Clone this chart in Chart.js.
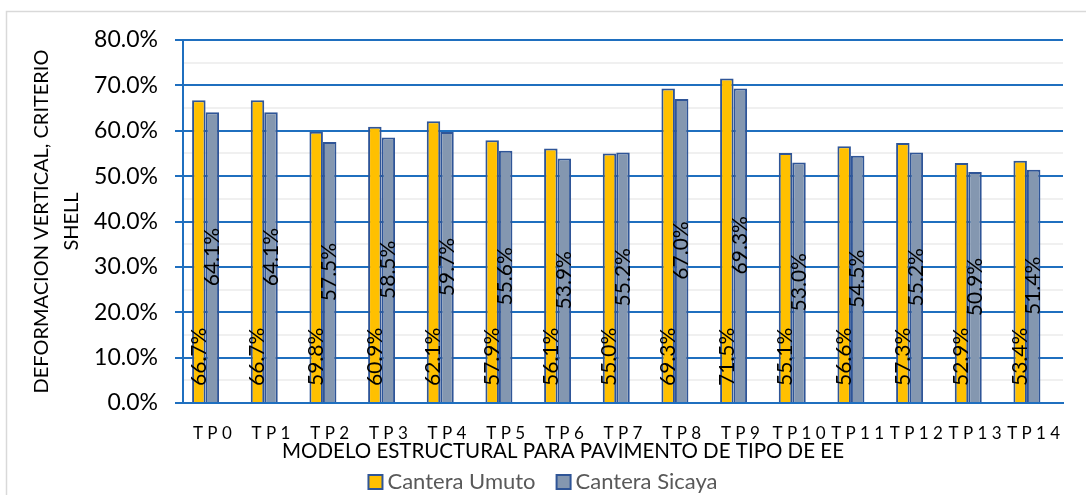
<!DOCTYPE html>
<html>
<head>
<meta charset="utf-8">
<script src="https://cdn.jsdelivr.net/npm/chart.js@4.4.1/dist/chart.umd.min.js"></script>
<style>
  html, body { margin: 0; padding: 0; background: #fff; }
  #wrap { width: 1086px; height: 495px; }
</style>
</head>
<body>
<div id="wrap"><canvas id="myChart" width="1086" height="495"></canvas></div>
<script>
// datos (porcentajes)
const categorias = ['TP0', 'TP1', 'TP2', 'TP3', 'TP4', 'TP5', 'TP6', 'TP7', 'TP8', 'TP9', 'TP10', 'TP11', 'TP12', 'TP13', 'TP14'];
const canteraUmuto = [66.7, 66.7, 59.8, 60.9, 62.1, 57.9, 56.1, 55.0, 69.3, 71.5, 55.1, 56.6, 57.3, 52.9, 53.4];
const canteraSicaya = [64.1, 64.1, 57.5, 58.5, 59.7, 55.6, 53.9, 55.2, 67.0, 69.3, 53.0, 54.5, 55.2, 50.9, 51.4];
const nombresSeries = ['Cantera Umuto', 'Cantera Sicaya'];
const tituloY = ['DEFORMACION VERTICAL, CRITERIO', 'SHELL'];
const tituloX = 'MODELO ESTRUCTURAL PARA PAVIMENTO DE TIPO DE EE';

const FUENTE = 'Lato';
const AZUL = '#1F6FBF';
const BORDE_BARRA = '#2F5597';

// marco gris alrededor de todo el grafico
const marco = {
    id: 'marco',
    beforeDraw(chart) {
        const ctx = chart.ctx;
        ctx.save();
        ctx.strokeStyle = '#D9D9D9';
        ctx.lineWidth = 1.5;
        ctx.strokeRect(6.5, 11.5, chart.width + 20, chart.height + 20);
        ctx.restore();
    }
};

// etiquetas de datos giradas, titulo del eje x y leyenda
const etiquetas = {
    id: 'etiquetas',
    afterDatasetsDraw(chart) {
        const ctx = chart.ctx;
        ctx.save();
        ctx.fillStyle = '#000';
        ctx.font = '21px ' + FUENTE;
        ctx.textBaseline = 'middle';
        [0, 1].forEach(d => {
            const meta = chart.getDatasetMeta(d);
            meta.data.forEach((bar, i) => {
                const val = chart.data.datasets[d].data[i];
                const txt = val.toFixed(1) + '%';
                ctx.save();
                if (d === 0) {
                    ctx.translate(bar.x, bar.base - 16);
                    ctx.rotate(-Math.PI / 2);
                    ctx.textAlign = 'left';
                } else {
                    ctx.translate(bar.x, (bar.y + bar.base) / 2);
                    ctx.rotate(-Math.PI / 2);
                    ctx.textAlign = 'center';
                }
                ctx.fillText(txt, 0, 0);
                ctx.restore();
            });
        });

        // titulo del eje x (un poco a la izquierda del centro, como en el original)
        ctx.font = '20.5px ' + FUENTE;
        ctx.textAlign = 'center';
        ctx.fillText(tituloX, chart.width / 2 + 20, 451);

        // leyenda
        ctx.font = '22px ' + FUENTE;
        ctx.textAlign = 'left';
        const caja = 14, sep = 5, entre = 21, yLey = 482;
        const anchos = nombresSeries.map(n => ctx.measureText(n).width);
        let total = 0;
        anchos.forEach((w, i) => { total += caja + sep + w + (i > 0 ? entre : 0); });
        let x = chart.width / 2 - total / 2;
        nombresSeries.forEach((n, i) => {
            const ds = chart.data.datasets[i];
            ctx.fillStyle = ds.backgroundColor;
            ctx.fillRect(x, yLey - caja / 2, caja, caja);
            ctx.strokeStyle = ds.borderColor;
            ctx.lineWidth = 2;
            ctx.strokeRect(x, yLey - caja / 2, caja, caja);
            ctx.fillStyle = '#595959';
            ctx.fillText(n, x + caja + sep, yLey);
            x += caja + sep + anchos[i] + entre;
        });
        ctx.restore();
    }
};

const data = {
    labels: categorias,
    datasets: [
        {
            label: nombresSeries[0],
            data: canteraUmuto,
            backgroundColor: '#FFC000',
            borderColor: BORDE_BARRA,
            borderWidth: 2
        },
        {
            label: nombresSeries[1],
            data: canteraSicaya,
            backgroundColor: '#8497B0',
            borderColor: BORDE_BARRA,
            borderWidth: 2
        },
        {
            // espacio vacio, las barras van corridas a la izquierda como en el original
            label: '',
            data: categorias.map(() => null),
            backgroundColor: 'transparent'
        }
    ]
};

const config = {
    type: 'bar',
    data: data,
    options: {
        responsive: false,
        animation: false,
        layout: { padding: { left: 0, right: 23, top: 40, bottom: 34 } },
        datasets: {
            bar: { categoryPercentage: 0.69, barPercentage: 1 }
        },
        plugins: {
            tooltip: { enabled: false },
            legend: { display: false }
        },
        scales: {
            x: {
                afterFit: (scale) => { scale.height = 58; },
                grid: { display: true, color: 'transparent', drawTicks: false },
                border: { display: true, color: AZUL, width: 2 },
                ticks: {
                    color: '#000',
                    font: { family: FUENTE, size: 17 },
                    padding: 20,
                    maxRotation: 0,
                    autoSkip: false,
                    callback: function (v, i) { return categorias[i].split('').join(' '); }
                }
            },
            y: {
                min: 0,
                max: 80,
                afterFit: (scale) => { scale.width = 183; },
                grid: {
                    color: (c) => c.tick.value % 10 === 0 ? AZUL : '#F0F0F0',
                    lineWidth: 2,
                    tickColor: (c) => c.tick.value % 10 === 0 ? AZUL : 'transparent',
                    tickLength: 8
                },
                border: { display: true, color: AZUL, width: 2 },
                ticks: {
                    stepSize: 5,
                    autoSkip: false,
                    color: '#000',
                    font: { family: FUENTE, size: 23 },
                    padding: 17,
                    callback: (v) => v % 10 === 0 ? v.toFixed(1) + '%' : ''
                },
                title: {
                    display: true,
                    text: tituloY,
                    color: '#000',
                    font: { family: FUENTE, size: 20, lineHeight: 1.5 },
                    padding: { top: 27, bottom: 0 }
                }
            }
        }
    },
    plugins: [marco, etiquetas]
};

const ctx = document.getElementById('myChart');
const myChart = new Chart(ctx, config);
</script>
</body>
</html>
